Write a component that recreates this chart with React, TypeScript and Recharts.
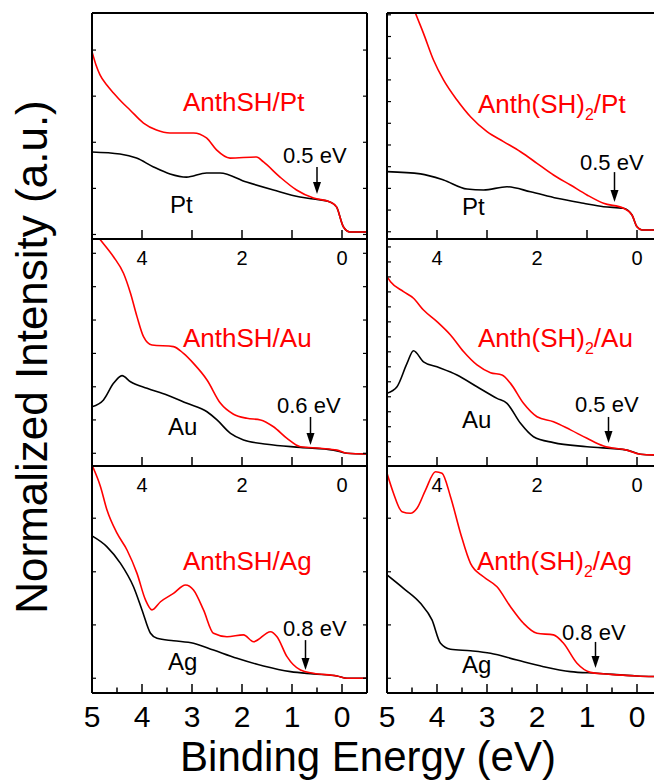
import React from "react";
import { LineChart, Line, XAxis, YAxis, ReferenceLine } from "recharts";

// binding energy (eV) and normalized intensity
// Pt row
const ptShE = [5.0, 4.92, 4.84, 4.7, 4.57, 4.4, 4.24, 3.97, 3.71, 3.44, 2.97, 2.71, 2.51, 2.24, 1.71, 1.57, 1.24, 0.91, 0.57, 0.24, 0.11, -0.03, -0.16, -0.5];
const ptShI = [82.9, 77.0, 72.6, 68.0, 64.6, 60.5, 57.1, 51.3, 48.2, 46.9, 46.9, 44.7, 39.4, 35.8, 36.3, 34.1, 27.4, 21.7, 18.1, 16.4, 14.2, 5.3, 3.1, 3.1];
const ptRefE_L = [5.0, 4.44, 4.11, 3.77, 3.44, 3.11, 2.71, 2.44, 1.91, 1.37, 0.84, 0.57, 0.24, 0.11, -0.03, -0.16, -0.5];
const ptRefI_L = [38.5, 37.6, 35.8, 31.9, 28.8, 27.4, 29.2, 29.2, 25.2, 21.7, 18.6, 17.7, 16.4, 14.2, 5.3, 3.1, 3.1];
const ptSh2E = [4.6, 4.43, 4.27, 4.07, 3.87, 3.6, 3.33, 3.0, 2.67, 2.33, 2.0, 1.67, 1.33, 1.0, 0.67, 0.27, 0.1, 0.0, -0.1, -0.5];
const ptSh2I = [110, 99.9, 91.0, 79.2, 70.4, 61.5, 54.1, 47.5, 43.1, 38.6, 33.5, 28.3, 23.9, 19.5, 15.8, 13.6, 10.6, 5.4, 4.0, 4.0];
const ptRefE_R = [5.0, 4.33, 3.87, 3.4, 3.07, 2.6, 2.13, 1.6, 1.07, 0.67, 0.27, 0.1, 0.0, -0.1, -0.5];
const ptRefI_R = [29.8, 28.8, 26.1, 22.1, 21.7, 23.1, 20.9, 18.0, 15.8, 14.3, 13.6, 10.6, 5.4, 4.0, 4.0];

// Au row
const auShE = [5.0, 4.83, 4.57, 4.37, 4.23, 4.1, 3.97, 3.8, 3.37, 3.17, 2.97, 2.7, 2.43, 2.17, 1.9, 1.63, 1.37, 1.1, 0.83, 0.43, 0.1, -0.1, -0.5];
const auShI = [104.4, 99.6, 92.2, 84.9, 76.1, 65.8, 57.0, 53.3, 52.6, 49.6, 45.2, 37.9, 27.6, 22.8, 21.0, 20.3, 17.3, 12.2, 8.5, 7.8, 7.0, 5.6, 5.3];
const auRefE_L = [5.0, 4.77, 4.57, 4.4, 4.23, 3.9, 3.5, 3.1, 2.7, 2.5, 2.23, 1.97, 1.5, 0.83, 0.17, -0.1, -0.5];
const auRefI_L = [26.1, 29.1, 36.4, 39.8, 37.1, 34.2, 31.3, 27.6, 23.9, 20.3, 14.4, 11.5, 9.6, 8.2, 7.0, 5.6, 5.3];
const auSh2E = [5.0, 4.93, 4.67, 4.47, 4.27, 4.0, 3.73, 3.47, 3.2, 2.93, 2.7, 2.53, 2.27, 2.0, 1.67, 1.33, 1.0, 0.67, 0.2, -0.07, -0.5];
const auSh2I = [83.4, 81.2, 76.8, 73.9, 68.7, 63.6, 57.7, 50.4, 44.5, 41.1, 40.1, 36.4, 27.6, 21.7, 19.5, 15.9, 12.2, 8.8, 7.0, 5.2, 4.8];
const auRefE_R = [5.0, 4.8, 4.6, 4.47, 4.27, 4.0, 3.6, 3.2, 2.8, 2.6, 2.33, 2.07, 1.67, 1.0, 0.2, -0.07, -0.5];
const auRefI_R = [32.0, 34.9, 45.2, 50.8, 45.9, 43.7, 40.1, 34.9, 29.8, 27.6, 18.8, 12.9, 10.3, 8.5, 7.0, 5.2, 4.8];

// Ag row
const agShE = [5.0, 4.83, 4.7, 4.5, 4.3, 4.1, 3.93, 3.8, 3.63, 3.37, 3.13, 2.97, 2.77, 2.57, 2.3, 1.97, 1.77, 1.43, 1.3, 1.1, 0.83, 0.57, 0.1, -0.1, -0.5];
const agShI = [100.4, 90.9, 80.6, 70.4, 63.0, 52.7, 41.0, 36.6, 40.2, 43.9, 47.6, 45.4, 36.6, 26.3, 24.8, 25.6, 22.6, 27.0, 24.8, 16.0, 10.1, 8.7, 7.5, 6.5, 6.5];
const agRefE_L = [5.0, 4.7, 4.43, 4.17, 4.0, 3.83, 3.7, 3.37, 2.97, 2.57, 2.1, 1.57, 1.03, 0.57, 0.1, -0.1, -0.5];
const agRefI_L = [69.2, 64.4, 57.1, 46.8, 36.6, 26.3, 24.1, 23.0, 21.9, 18.9, 15.3, 11.9, 9.4, 8.4, 7.5, 6.5, 6.5];
const agSh2E = [5.0, 4.87, 4.7, 4.53, 4.4, 4.23, 4.03, 3.9, 3.73, 3.53, 3.33, 3.07, 2.8, 2.53, 2.27, 2.0, 1.67, 1.47, 1.2, 0.93, 0.53, 0.0, -0.5];
const agSh2I = [96.8, 88.0, 79.9, 79.2, 81.4, 89.4, 97.5, 96.8, 86.5, 70.4, 57.1, 51.2, 46.8, 38.0, 30.7, 26.3, 25.6, 21.9, 13.1, 9.1, 8.2, 7.5, 7.2];
const agRefE_R = [5.0, 4.67, 4.33, 4.1, 3.93, 3.73, 3.33, 2.93, 2.4, 1.87, 1.33, 0.8, 0.0, -0.5];
const agRefI_R = [52.0, 46.1, 39.5, 32.2, 21.9, 19.3, 18.6, 17.5, 14.5, 11.6, 9.4, 8.7, 7.5, 7.2];

// ticks
const xMajor = [5, 4, 3, 2, 1, 0];
const xFine = [5, 4.5, 4, 3.5, 3, 2.5, 2, 1.5, 1, 0.5, 0];
const evenLabels = [4, 2, 0];
const allLabels = [5, 4, 3, 2, 1, 0];
const ytPtL = [2.0, 22.4, 42.8, 63.2, 83.6];
const ytPtR = [3.2, 12.8, 22.4, 32.0, 41.6, 51.2, 60.8, 70.4, 80.0, 89.6, 99.2];
const ytAuL = [5.6, 20.3, 34.9, 49.6, 64.3, 79.0, 93.7];
const ytAuR = [4.1, 10.7, 17.3, 23.9, 30.5, 37.1, 43.7, 50.3, 56.9, 63.5, 70.1, 76.7, 83.3, 89.9, 96.5];
const ytAg = [6.5, 30.0, 53.4, 77.0];

// onset arrows: energy, top and tip intensity
const onsetE = [0.5, 0.45, 0.63, 0.57, 0.73, 0.83];
const onsetTop = [31.9, 29.6, 21.6, 21.6, 23.3, 22.5];
const onsetTip = [19.9, 16.4, 9.3, 10.1, 10.1, 11.0];

const FONT = "'Liberation Sans', Arial, sans-serif";
const RED = "#ff0000";
const PW = 275;
const M = 10;
const MB = 45;

const rows = (es: number[], vs: number[]) => es.map((e, i) => ({ e, v: vs[i] }));

function XTick(props: any) {
  const { x, y, payload, dir, len, labels, size, dy, shift } = props;
  const v = payload.value;
  const y0 = y + (shift || 0);
  const l = Number.isInteger(v) ? len : len * 0.55;
  return (
    <g>
      <line x1={x} y1={y0} x2={x} y2={y0 + dir * l} stroke="#000" strokeWidth={1.5} />
      {labels && labels.includes(v) ? (
        <text x={x} y={y0 + dy} textAnchor="middle" fontSize={size} fontFamily={FONT} fill="#000">
          {v}
        </text>
      ) : null}
    </g>
  );
}

function YTick(props: any) {
  const { x, y, dir } = props;
  return <line x1={x} y1={y} x2={x + dir * 4} y2={y} stroke="#000" strokeWidth={1.2} />;
}

function Arrow(props: any) {
  const { x1, y1, x2, y2 } = props;
  return (
    <g>
      <line x1={x1} y1={y1} x2={x2} y2={y2 - 10} stroke="#000" strokeWidth={1.5} />
      <polygon points={`${x2 - 4},${y2 - 12} ${x2 + 4},${y2 - 12} ${x2},${y2}`} fill="#000" />
    </g>
  );
}

const panels = [
  { left: 92, top: 13, h: 226, red: rows(ptShE, ptShI), black: rows(ptRefE_L, ptRefI_L), yt: ytPtL, row: 0 },
  { left: 387, top: 13, h: 226, red: rows(ptSh2E, ptSh2I), black: rows(ptRefE_R, ptRefI_R), yt: ytPtR, row: 0 },
  { left: 92, top: 239, h: 227, red: rows(auShE, auShI), black: rows(auRefE_L, auRefI_L), yt: ytAuL, row: 1 },
  { left: 387, top: 239, h: 227, red: rows(auSh2E, auSh2I), black: rows(auRefE_R, auRefI_R), yt: ytAuR, row: 1 },
  { left: 92, top: 466, h: 227, red: rows(agShE, agShI), black: rows(agRefE_L, agRefI_L), yt: ytAg, row: 2 },
  { left: 387, top: 466, h: 227, red: rows(agSh2E, agSh2I), black: rows(agRefE_R, agRefI_R), yt: ytAg, row: 2 },
];

const axisLine = { stroke: "#000", strokeWidth: 2 };

function Panel({ p, i }: { p: any; i: number }) {
  const bottomRow = p.row === 2;
  // axes are 1px thick (a 0 size axis is not drawn), so margins give that pixel back
  return (
    <div style={{ position: "absolute", left: p.left - M, top: p.top - M }}>
      <LineChart
        width={PW + 2 * M}
        height={p.h + M + MB}
        margin={{ top: M - 1, right: M - 1, bottom: MB - 1, left: M - 1 }}
      >
        <XAxis
          xAxisId="b"
          dataKey="e"
          type="number"
          domain={[-0.5, 5]}
          reversed
          allowDataOverflow
          ticks={bottomRow ? xFine : xMajor}
          interval={0}
          height={1}
          tickSize={0}
          tickMargin={0}
          tickLine={false}
          axisLine={axisLine}
          tick={
            <XTick
              dir={-1}
              shift={-1}
              len={8}
              labels={bottomRow ? allLabels : evenLabels}
              size={bottomRow ? 30 : 20}
              dy={bottomRow ? 35 : 27}
            />
          }
        />
        <XAxis
          xAxisId="t"
          orientation="top"
          type="number"
          domain={[-0.5, 5]}
          reversed
          allowDataOverflow
          ticks={xMajor}
          interval={0}
          height={1}
          tickSize={0}
          tickMargin={0}
          tickLine={false}
          axisLine={axisLine}
          tick={p.row === 0 ? <XTick dir={1} shift={1} len={7} labels={null} /> : false}
        />
        <YAxis
          yAxisId="l"
          type="number"
          domain={[0, 100]}
          allowDataOverflow
          ticks={p.yt}
          interval={0}
          width={1}
          tickSize={0}
          tickMargin={0}
          tickLine={false}
          axisLine={axisLine}
          tick={<YTick dir={1} />}
        />
        <YAxis
          yAxisId="r"
          orientation="right"
          type="number"
          domain={[0, 100]}
          allowDataOverflow
          ticks={p.yt}
          interval={0}
          width={1}
          tickSize={0}
          tickMargin={0}
          tickLine={false}
          axisLine={axisLine}
          tick={<YTick dir={-1} />}
        />
        <Line
          xAxisId="b"
          yAxisId="l"
          data={p.black}
          dataKey="v"
          type="monotone"
          stroke="#000"
          strokeWidth={1.6}
          dot={false}
          isAnimationActive={false}
        />
        <Line
          xAxisId="b"
          yAxisId="l"
          data={p.red}
          dataKey="v"
          type="monotone"
          stroke={RED}
          strokeWidth={1.6}
          dot={false}
          isAnimationActive={false}
        />
        <ReferenceLine
          xAxisId="b"
          yAxisId="l"
          segment={[
            { x: onsetE[i], y: onsetTop[i] },
            { x: onsetE[i], y: onsetTip[i] },
          ]}
          shape={(sp: any) => <Arrow {...sp} />}
        />
      </LineChart>
    </div>
  );
}

function Sub({ x, y, head, tail }: { x: number; y: number; head: string; tail: string }) {
  return (
    <text x={x} y={y} fontSize={26} fontFamily={FONT} fill={RED}>
      {head}
      <tspan fontSize={16} dy={7}>2</tspan>
      <tspan dy={-7}>{tail}</tspan>
    </text>
  );
}

export default function App() {
  const t = { fontFamily: FONT, fill: "#000" };
  return (
    <div style={{ position: "absolute", left: 0, top: 0, width: 654, height: 781, overflow: "hidden", background: "#fff" }}>
      {panels.map((p, i) => (
        <Panel key={i} p={p} i={i} />
      ))}
      <svg width={654} height={781} style={{ position: "absolute", left: 0, top: 0, pointerEvents: "none" }}>
        <text x={183} y={111} fontSize={26} fontFamily={FONT} fill={RED}>AnthSH/Pt</text>
        <text x={183} y={347} fontSize={26} fontFamily={FONT} fill={RED}>AnthSH/Au</text>
        <text x={183} y={570} fontSize={26} fontFamily={FONT} fill={RED}>AnthSH/Ag</text>
        <Sub x={478} y={113} head="Anth(SH)" tail="/Pt" />
        <Sub x={478} y={347} head="Anth(SH)" tail="/Au" />
        <Sub x={477} y={570} head="Anth(SH)" tail="/Ag" />

        <text x={283} y={163} fontSize={22} {...t}>0.5 eV</text>
        <text x={580} y={170} fontSize={22} {...t}>0.5 eV</text>
        <text x={277} y={413} fontSize={22} {...t}>0.6 eV</text>
        <text x={575} y={412} fontSize={22} {...t}>0.5 eV</text>
        <text x={283} y={636} fontSize={22} {...t}>0.8 eV</text>
        <text x={562} y={640} fontSize={22} {...t}>0.8 eV</text>

        <text x={170} y={213} fontSize={24} {...t}>Pt</text>
        <text x={462} y={215} fontSize={24} {...t}>Pt</text>
        <text x={168} y={435} fontSize={24} {...t}>Au</text>
        <text x={462} y={428} fontSize={24} {...t}>Au</text>
        <text x={168} y={670} fontSize={24} {...t}>Ag</text>
        <text x={462} y={673} fontSize={24} {...t}>Ag</text>

        <text x={368} y={771} fontSize={42} textAnchor="middle" {...t}>Binding Energy (eV)</text>
        <text x={47} y={357} fontSize={44} textAnchor="middle" transform="rotate(-90 47 357)" {...t}>
          Normalized Intensity (a.u.)
        </text>
      </svg>
    </div>
  );
}
